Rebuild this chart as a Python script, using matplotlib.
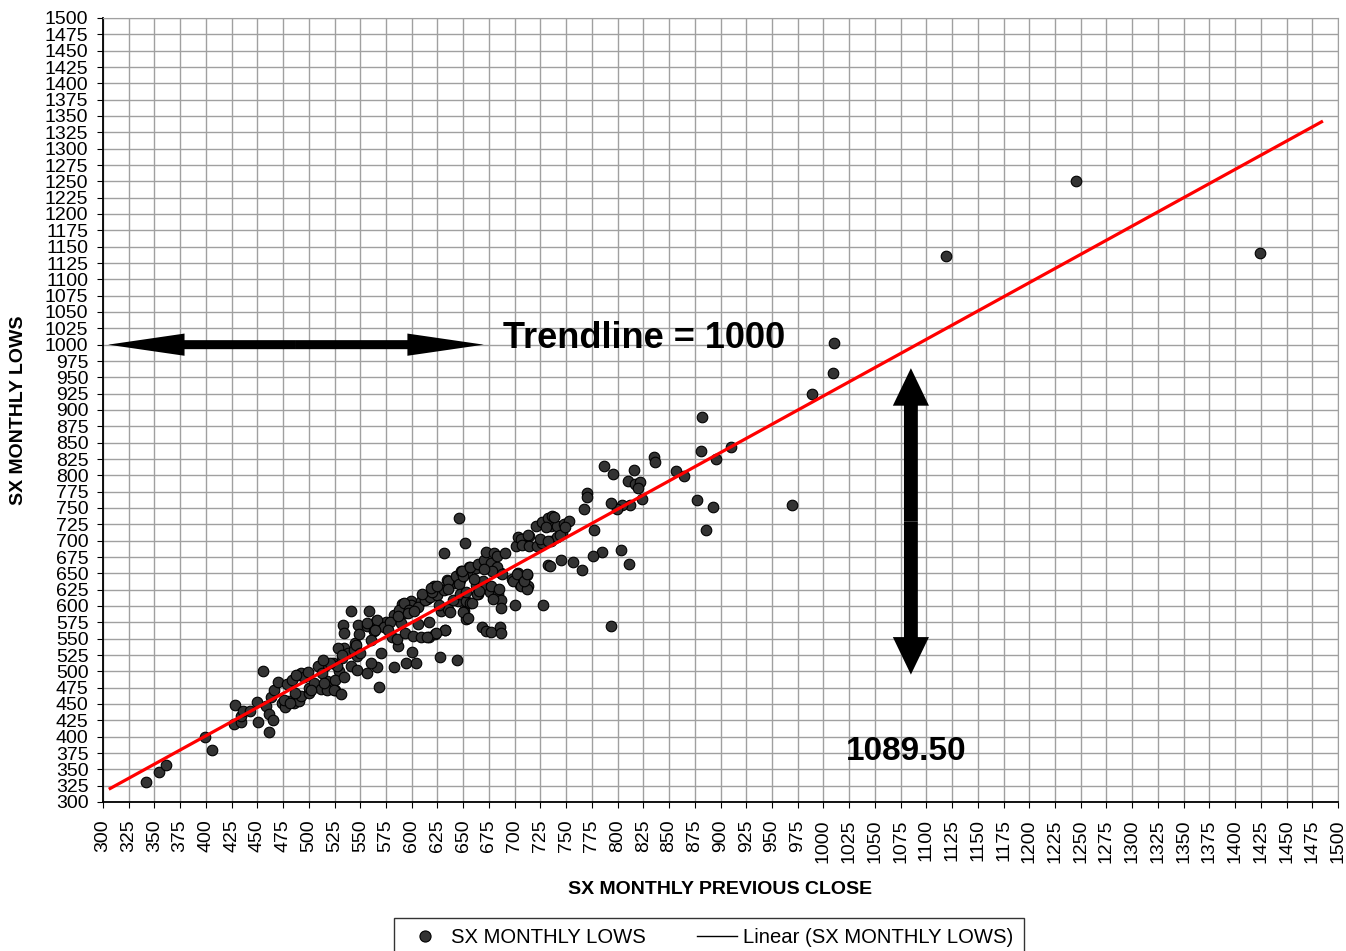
import matplotlib.pyplot as plt
import numpy as np
from matplotlib.lines import Line2D
from matplotlib.patches import FancyArrowPatch

plt.rcParams['font.family'] = ['Liberation Sans', 'DejaVu Sans']

# previous close (x) vs monthly low (y)
close_early = [342, 354, 361, 399, 406, 428, 427, 434, 434, 436, 443, 451, 450, 458, 461,
               461, 465, 463, 466, 470, 455, 474, 477, 481, 486, 490, 492, 487, 479, 484,
               489, 492, 495, 488, 499, 500, 500, 505, 512, 518, 525, 516, 523, 532, 534,
               529, 476, 482, 502, 509, 513, 518, 525, 527, 521, 528, 538, 545, 541, 547,
               515, 524, 531, 534, 547, 514, 532, 544, 533, 548, 541, 534, 549, 546]
low_early = [331, 346, 357, 399, 379, 449, 419, 422, 431, 439, 440, 422, 453, 447, 407,
             434, 426, 460, 472, 484, 501, 452, 446, 454, 452, 454, 462, 467, 481, 487,
             495, 498, 492, 494, 499, 467, 475, 482, 473, 485, 472, 508, 513, 521, 536,
             500, 456, 451, 472, 508, 498, 472, 487, 508, 513, 536, 528, 543, 508, 523,
             482, 471, 466, 492, 502, 517, 525, 533, 571, 571, 592, 558, 557, 540]

close_core = [558, 568, 583, 594, 604, 587, 600, 557, 566, 560, 570, 550, 557, 565, 575,
              583, 591, 599, 609, 615, 563, 560, 557, 566, 581, 590, 593, 599, 588, 592,
              573, 579, 587, 597, 606, 564, 577, 586, 593, 601, 609, 617, 623, 632, 606,
              617, 628, 635, 596, 602, 613, 618, 625, 631, 641, 647, 654, 662, 668, 610,
              622, 634, 644, 620, 619, 625, 635, 643, 648, 656, 646, 635, 645, 651, 653,
              627, 644, 626, 637, 640, 647, 653, 662, 664, 650, 657, 668, 672, 632, 624,
              615, 631, 646, 652, 655, 659, 663, 653, 669, 671, 650, 649, 657, 660, 665,
              677, 686, 687, 676, 684, 687, 679, 705, 713, 712, 703, 697, 687, 700, 687,
              664, 670, 672, 677, 680, 683, 683, 678, 670, 688, 698, 702, 706, 712, 677,
              685, 691, 701, 703, 706, 707, 714, 714, 722, 727, 735, 741, 746, 735, 741,
              748, 753, 721, 727, 732, 736, 728, 732, 745, 757, 765, 734, 709, 713, 725,
              730, 738, 744, 749, 732, 712]
low_core = [592, 476, 507, 512, 512, 539, 530, 497, 507, 512, 528, 528, 569, 577, 575,
            586, 603, 608, 608, 610, 561, 548, 574, 579, 553, 574, 589, 602, 594, 604,
            568, 576, 584, 594, 599, 564, 564, 549, 559, 554, 553, 552, 557, 564, 572,
            575, 592, 595, 590, 592, 609, 614, 617, 625, 635, 640, 650, 658, 663, 619,
            630, 640, 642, 621, 627, 631, 639, 646, 654, 659, 633, 626, 608, 592, 580,
            522, 518, 602, 591, 609, 619, 607, 632, 619, 591, 604, 568, 561, 563, 559,
            553, 681, 735, 697, 581, 604, 618, 621, 639, 627, 646, 654, 659, 641, 623,
            560, 568, 558, 622, 619, 609, 611, 632, 631, 647, 650, 642, 650, 601, 597,
            664, 671, 683, 666, 681, 677, 659, 654, 656, 649, 638, 649, 631, 626, 631,
            626, 681, 692, 705, 702, 694, 707, 692, 692, 697, 700, 705, 712, 723, 723,
            725, 730, 723, 728, 735, 737, 602, 662, 671, 668, 655, 661, 639, 708, 703,
            721, 736, 708, 721, 700, 649]

close_late = [770, 770, 767, 777, 787, 796, 816, 810, 817, 822, 820, 824, 812, 804, 799,
              794, 803, 811, 785, 776, 794, 835, 836, 857, 865, 877, 893, 886, 882, 881,
              896, 910, 969, 989, 1009, 1010, 1119, 1245, 1424]
low_late = [773, 767, 749, 716, 814, 802, 808, 792, 786, 790, 780, 764, 754, 754, 749,
            758, 686, 664, 682, 677, 570, 828, 820, 806, 799, 763, 751, 717, 890, 837,
            825, 843, 755, 924, 957, 1003, 1135, 1250, 1141]

trend_span = [307, 1484]
ticks = np.arange(300, 1501, 25)

prev_close = np.array(close_early + close_core + close_late)
monthly_lows = np.array(low_early + low_core + low_late)

fig = plt.figure(figsize=(13.46, 9.51), dpi=100)
ax = fig.add_axes([103 / 1346, 1 - 802 / 951, 1235 / 1346, 784 / 951])

ax.set_xlim(300, 1500)
ax.set_ylim(300, 1500)
ax.set_xticks(ticks)
ax.set_yticks(ticks)
ax.tick_params(axis='x', labelrotation=90, labelsize=14, length=4.5, pad=8)
ax.tick_params(axis='y', labelsize=14, length=4.5, pad=6)
ax.grid(True, color='#a0a0a0', lw=1.0)
ax.set_axisbelow(True)
for side in ['top', 'right']:
    ax.spines[side].set_color('#a0a0a0')
for side in ['left', 'bottom']:
    ax.spines[side].set_linewidth(1.3)

ax.scatter(prev_close, monthly_lows, s=58, c='#333333', edgecolors='black',
           linewidths=0.8, zorder=3)

# linear trendline
coef = np.polyfit(prev_close, monthly_lows, 1)
tx = np.array(trend_span)
ax.plot(tx, np.polyval(coef, tx), color='red', lw=2.3, zorder=4)


def double_arrow(p0, p1, head_len, head_w, tail_w):
    mid = ((p0[0] + p1[0]) / 2, (p0[1] + p1[1]) / 2)
    style = f'simple,head_length={head_len},head_width={head_w},tail_width={tail_w}'
    for end in (p0, p1):
        ax.add_patch(FancyArrowPatch(mid, end, arrowstyle=style, mutation_scale=1,
                                     color='black', lw=0, shrinkA=0, shrinkB=0, zorder=5))


double_arrow((305, 1000), (670, 1000), 55, 16, 6.5)
double_arrow((1085, 495), (1085, 964), 27, 26, 10)

ax.text(826, 1010, 'Trendline = 1000', ha='center', va='center', fontsize=26,
        fontweight='bold', zorder=6)
ax.text(1080, 378, '1089.50', ha='center', va='center', fontsize=24,
        fontweight='bold', zorder=6)

ax.set_xlabel('SX MONTHLY PREVIOUS CLOSE', fontsize=14, fontweight='bold', va='center')
ax.xaxis.set_label_coords(0.5, -0.111)
ax.set_ylabel('SX MONTHLY LOWS', fontsize=14, fontweight='bold', va='center')
ax.yaxis.set_label_coords(-0.0688, 0.5)

h1 = Line2D([], [], ls='none', marker='o', ms=8, mfc='#333333', mec='black', mew=0.8)
h2 = Line2D([], [], color='black', lw=1)
fig.legend(handles=[h1, h2], labels=['SX MONTHLY LOWS', 'Linear (SX MONTHLY LOWS)'],
           loc='upper center', bbox_to_anchor=(709 / 1346, 1 - 918 / 951), ncol=2,
           frameon=True, fancybox=False, edgecolor='black', fontsize=14.6,
           handlelength=2.0, handletextpad=0.3, columnspacing=2.5, borderpad=0.5,
           borderaxespad=0)

fig.savefig('out.png', dpi=100)
